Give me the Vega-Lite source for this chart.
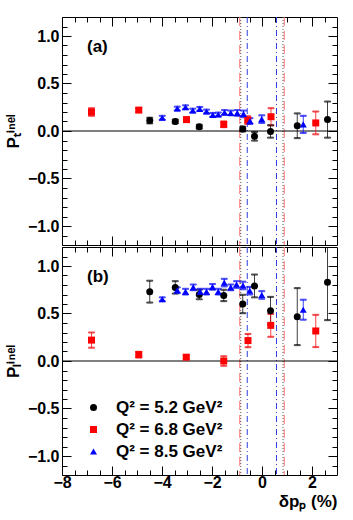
{
  "$schema": "https://vega.github.io/schema/vega-lite/v6.json",
  "padding": {"left": 3, "top": 16, "right": 5, "bottom": 2},
  "config": {
    "font": "Liberation Sans",
    "view": {"stroke": "black", "strokeWidth": 1},
    "axis": {"domain": false, "grid": false, "tickColor": "black", "tickWidth": 1, "tickSize": -9, "labelColor": "black", "titleColor": "black", "labelFont": "Liberation Sans", "labelFontWeight": "bold", "labelFontSize": 16, "titleFont": "Liberation Sans", "titleFontWeight": "bold", "titleFontSize": 17, "labelOverlap": false, "labelFlush": false, "labelBound": false},
    "legend": {"labelFont": "Liberation Sans", "labelFontWeight": "bold", "labelFontSize": 17, "labelColor": "black", "padding": 0, "rowPadding": 4, "labelOffset": 14, "symbolSize": 49, "symbolStrokeWidth": 0, "symbolOpacity": 1}
  },
  "datasets": {
    "vlines": [
      {"kind": "red", "x": -0.89}, {"kind": "red", "x": 0.89},
      {"kind": "dot", "x": -0.85}, {"kind": "dot", "x": 0.84},
      {"kind": "blue", "x": -0.59}, {"kind": "blue", "x": 0.58}
    ],
    "pts": [
      {"panel": "a", "q": "Q² = 5.2 GeV²", "x": -4.49, "y": 0.11, "lo": 0.08, "hi": 0.14},
      {"panel": "a", "q": "Q² = 5.2 GeV²", "x": -3.47, "y": 0.10, "lo": 0.08, "hi": 0.12},
      {"panel": "a", "q": "Q² = 5.2 GeV²", "x": -2.51, "y": 0.045, "lo": 0.025, "hi": 0.065},
      {"panel": "a", "q": "Q² = 5.2 GeV²", "x": -0.77, "y": 0.02, "lo": -0.005, "hi": 0.045},
      {"panel": "a", "q": "Q² = 5.2 GeV²", "x": -0.30, "y": -0.056, "lo": -0.101, "hi": -0.011},
      {"panel": "a", "q": "Q² = 5.2 GeV²", "x": 0.34, "y": -0.005, "lo": -0.07, "hi": 0.06},
      {"panel": "a", "q": "Q² = 5.2 GeV²", "x": 1.41, "y": 0.055, "lo": -0.075, "hi": 0.185},
      {"panel": "a", "q": "Q² = 5.2 GeV²", "x": 2.62, "y": 0.12, "lo": -0.07, "hi": 0.31},
      {"panel": "a", "q": "Q² = 6.8 GeV²", "x": -6.82, "y": 0.20, "lo": 0.16, "hi": 0.24},
      {"panel": "a", "q": "Q² = 6.8 GeV²", "x": -4.93, "y": 0.22, "lo": 0.20, "hi": 0.24},
      {"panel": "a", "q": "Q² = 6.8 GeV²", "x": -3.02, "y": 0.12, "lo": 0.10, "hi": 0.14},
      {"panel": "a", "q": "Q² = 6.8 GeV²", "x": -1.53, "y": 0.07, "lo": 0.04, "hi": 0.10},
      {"panel": "a", "q": "Q² = 6.8 GeV²", "x": -0.57, "y": 0.115, "lo": 0.075, "hi": 0.155},
      {"panel": "a", "q": "Q² = 6.8 GeV²", "x": 0.36, "y": 0.15, "lo": 0.06, "hi": 0.24},
      {"panel": "a", "q": "Q² = 6.8 GeV²", "x": 2.15, "y": 0.085, "lo": -0.035, "hi": 0.205},
      {"panel": "a", "q": "Q² = 8.5 GeV²", "x": -3.99, "y": 0.14, "lo": 0.12, "hi": 0.16},
      {"panel": "a", "q": "Q² = 8.5 GeV²", "x": -3.39, "y": 0.236, "lo": 0.216, "hi": 0.256},
      {"panel": "a", "q": "Q² = 8.5 GeV²", "x": -3.06, "y": 0.25, "lo": 0.23, "hi": 0.27},
      {"panel": "a", "q": "Q² = 8.5 GeV²", "x": -2.77, "y": 0.215, "lo": 0.195, "hi": 0.235},
      {"panel": "a", "q": "Q² = 8.5 GeV²", "x": -2.49, "y": 0.233, "lo": 0.213, "hi": 0.253},
      {"panel": "a", "q": "Q² = 8.5 GeV²", "x": -2.22, "y": 0.205, "lo": 0.185, "hi": 0.225},
      {"panel": "a", "q": "Q² = 8.5 GeV²", "x": -1.97, "y": 0.17, "lo": 0.15, "hi": 0.19},
      {"panel": "a", "q": "Q² = 8.5 GeV²", "x": -1.75, "y": 0.174, "lo": 0.154, "hi": 0.194},
      {"panel": "a", "q": "Q² = 8.5 GeV²", "x": -1.50, "y": 0.195, "lo": 0.17, "hi": 0.22},
      {"panel": "a", "q": "Q² = 8.5 GeV²", "x": -1.25, "y": 0.19, "lo": 0.165, "hi": 0.215},
      {"panel": "a", "q": "Q² = 8.5 GeV²", "x": -0.99, "y": 0.19, "lo": 0.16, "hi": 0.22},
      {"panel": "a", "q": "Q² = 8.5 GeV²", "x": -0.74, "y": 0.18, "lo": 0.145, "hi": 0.215},
      {"panel": "a", "q": "Q² = 8.5 GeV²", "x": -0.48, "y": 0.105, "lo": 0.075, "hi": 0.135},
      {"panel": "a", "q": "Q² = 8.5 GeV²", "x": -0.01, "y": 0.125, "lo": 0.085, "hi": 0.165},
      {"panel": "a", "q": "Q² = 8.5 GeV²", "x": 1.65, "y": 0.07, "lo": -0.02, "hi": 0.16},
      {"panel": "b", "q": "Q² = 5.2 GeV²", "x": -4.49, "y": 0.73, "lo": 0.615, "hi": 0.845},
      {"panel": "b", "q": "Q² = 5.2 GeV²", "x": -3.47, "y": 0.775, "lo": 0.71, "hi": 0.84},
      {"panel": "b", "q": "Q² = 5.2 GeV²", "x": -2.51, "y": 0.70, "lo": 0.65, "hi": 0.75},
      {"panel": "b", "q": "Q² = 5.2 GeV²", "x": -1.53, "y": 0.69, "lo": 0.63, "hi": 0.75},
      {"panel": "b", "q": "Q² = 5.2 GeV²", "x": -0.77, "y": 0.60, "lo": 0.503, "hi": 0.697},
      {"panel": "b", "q": "Q² = 5.2 GeV²", "x": -0.30, "y": 0.79, "lo": 0.67, "hi": 0.91},
      {"panel": "b", "q": "Q² = 5.2 GeV²", "x": 0.34, "y": 0.53, "lo": 0.385, "hi": 0.675},
      {"panel": "b", "q": "Q² = 5.2 GeV²", "x": 1.41, "y": 0.467, "lo": 0.167, "hi": 0.767},
      {"panel": "b", "q": "Q² = 5.2 GeV²", "x": 2.62, "y": 0.83, "lo": 0.43, "hi": 1.23},
      {"panel": "b", "q": "Q² = 6.8 GeV²", "x": -6.82, "y": 0.22, "lo": 0.14, "hi": 0.30},
      {"panel": "b", "q": "Q² = 6.8 GeV²", "x": -4.93, "y": 0.067, "lo": 0.037, "hi": 0.097},
      {"panel": "b", "q": "Q² = 6.8 GeV²", "x": -3.03, "y": 0.04, "lo": 0.02, "hi": 0.06},
      {"panel": "b", "q": "Q² = 6.8 GeV²", "x": -1.53, "y": 0.0, "lo": -0.05, "hi": 0.05},
      {"panel": "b", "q": "Q² = 6.8 GeV²", "x": -0.56, "y": 0.215, "lo": 0.145, "hi": 0.285},
      {"panel": "b", "q": "Q² = 6.8 GeV²", "x": 0.35, "y": 0.375, "lo": 0.255, "hi": 0.495},
      {"panel": "b", "q": "Q² = 6.8 GeV²", "x": 2.15, "y": 0.316, "lo": 0.146, "hi": 0.486},
      {"panel": "b", "q": "Q² = 8.5 GeV²", "x": -3.99, "y": 0.65, "lo": 0.63, "hi": 0.67},
      {"panel": "b", "q": "Q² = 8.5 GeV²", "x": -3.39, "y": 0.745, "lo": 0.715, "hi": 0.775},
      {"panel": "b", "q": "Q² = 8.5 GeV²", "x": -3.06, "y": 0.73, "lo": 0.70, "hi": 0.76},
      {"panel": "b", "q": "Q² = 8.5 GeV²", "x": -2.75, "y": 0.775, "lo": 0.745, "hi": 0.805},
      {"panel": "b", "q": "Q² = 8.5 GeV²", "x": -2.48, "y": 0.73, "lo": 0.70, "hi": 0.76},
      {"panel": "b", "q": "Q² = 8.5 GeV²", "x": -2.22, "y": 0.73, "lo": 0.70, "hi": 0.76},
      {"panel": "b", "q": "Q² = 8.5 GeV²", "x": -1.98, "y": 0.78, "lo": 0.75, "hi": 0.81},
      {"panel": "b", "q": "Q² = 8.5 GeV²", "x": -1.75, "y": 0.73, "lo": 0.70, "hi": 0.76},
      {"panel": "b", "q": "Q² = 8.5 GeV²", "x": -1.51, "y": 0.825, "lo": 0.785, "hi": 0.865},
      {"panel": "b", "q": "Q² = 8.5 GeV²", "x": -1.25, "y": 0.775, "lo": 0.745, "hi": 0.805},
      {"panel": "b", "q": "Q² = 8.5 GeV²", "x": -1.02, "y": 0.805, "lo": 0.77, "hi": 0.84},
      {"panel": "b", "q": "Q² = 8.5 GeV²", "x": -0.76, "y": 0.795, "lo": 0.755, "hi": 0.835},
      {"panel": "b", "q": "Q² = 8.5 GeV²", "x": -0.49, "y": 0.74, "lo": 0.70, "hi": 0.78},
      {"panel": "b", "q": "Q² = 8.5 GeV²", "x": -0.01, "y": 0.695, "lo": 0.655, "hi": 0.735},
      {"panel": "b", "q": "Q² = 8.5 GeV²", "x": 1.65, "y": 0.54, "lo": 0.435, "hi": 0.645}
    ]
  },
  "spacing": 0,
  "vconcat": [
    {
      "width": 275, "height": 228,
      "resolve": {"axis": {"x": "independent", "y": "independent"}},
      "layer": [
        {"data": {"name": "vlines"}, "transform": [{"filter": "datum.kind == 'red'"}],
         "mark": {"type": "rule", "color": "#ff7070", "strokeWidth": 1, "strokeDash": [9, 5]},
         "encoding": {"x": {"field": "x", "type": "quantitative", "scale": {"domain": [-8, 3], "nice": false, "zero": false}, "axis": null}}},
        {"data": {"name": "vlines"}, "transform": [{"filter": "datum.kind == 'dot'"}],
         "mark": {"type": "rule", "color": "#555555", "strokeWidth": 1, "strokeDash": [1, 2]},
         "encoding": {"x": {"field": "x", "type": "quantitative", "scale": {"domain": [-8, 3], "nice": false, "zero": false}, "axis": null}}},
        {"data": {"name": "vlines"}, "transform": [{"filter": "datum.kind == 'blue'"}],
         "mark": {"type": "rule", "color": "#3040e0", "strokeWidth": 1, "strokeDash": [6, 3, 1, 3]},
         "encoding": {"x": {"field": "x", "type": "quantitative", "scale": {"domain": [-8, 3], "nice": false, "zero": false}, "axis": null}}},
        {"data": {"values": [{"y": 0}]},
         "mark": {"type": "rule", "color": "black", "strokeWidth": 1},
         "encoding": {"y": {"field": "y", "type": "quantitative", "scale": {"domain": [-1.2, 1.2], "nice": false, "zero": false}, "axis": null}}},
        {"data": {"name": "pts"}, "transform": [{"filter": "datum.panel == 'a'"}],
         "mark": {"type": "errorbar", "ticks": {"size": 6}, "thickness": 1, "opacity": 0.75},
         "encoding": {
           "x": {"field": "x", "type": "quantitative", "scale": {"domain": [-8, 3], "nice": false, "zero": false},
                 "axis": {"orient": "top", "labels": false, "title": null, "values": [-8,-7.5,-7,-6.5,-6,-5.5,-5,-4.5,-4,-3.5,-3,-2.5,-2,-1.5,-1,-0.5,0,0.5,1,1.5,2,2.5],
                          "tickDash": {"condition": {"test": "abs(datum.value/2 - round(datum.value/2)) < 0.001", "value": [20, 1]}, "value": [5, 20]}}},
           "y": {"field": "lo", "type": "quantitative", "scale": {"domain": [-1.2, 1.2], "nice": false, "zero": false},
                 "axis": {"orient": "right", "labels": false, "title": null, "values": [-1.1,-1,-0.9,-0.8,-0.7,-0.6,-0.5,-0.4,-0.3,-0.2,-0.1,0,0.1,0.2,0.3,0.4,0.5,0.6,0.7,0.8,0.9,1,1.1],
                          "tickDash": {"condition": {"test": "abs(datum.value*2 - round(datum.value*2)) < 0.001", "value": [20, 1]}, "value": [5, 20]}}},
           "y2": {"field": "hi"},
           "stroke": {"field": "q", "type": "nominal", "scale": {"domain": ["Q² = 5.2 GeV²", "Q² = 6.8 GeV²", "Q² = 8.5 GeV²"], "range": ["#000000", "#ff0000", "#0000ff"]},
                      "legend": {"orient": "none", "legendX": 23, "legendY": 382, "title": null}}
         }},
        {"data": {"name": "pts"}, "transform": [{"filter": "datum.panel == 'a'"}],
         "mark": {"type": "point", "filled": true, "size": 49, "opacity": 1},
         "encoding": {
           "x": {"field": "x", "type": "quantitative", "scale": {"domain": [-8, 3], "nice": false, "zero": false},
                 "axis": {"orient": "bottom", "labels": false, "title": null, "values": [-8,-7.5,-7,-6.5,-6,-5.5,-5,-4.5,-4,-3.5,-3,-2.5,-2,-1.5,-1,-0.5,0,0.5,1,1.5,2,2.5],
                          "tickDash": {"condition": {"test": "abs(datum.value/2 - round(datum.value/2)) < 0.001", "value": [20, 1]}, "value": [5, 20]}}},
           "y": {"field": "y", "type": "quantitative", "scale": {"domain": [-1.2, 1.2], "nice": false, "zero": false},
                 "axis": {"orient": "left", "title": "Pₜⁱⁿᵉˡ", "titlePadding": 5, "labelPadding": 12,
                          "values": [-1.1,-1,-0.9,-0.8,-0.7,-0.6,-0.5,-0.4,-0.3,-0.2,-0.1,0,0.1,0.2,0.3,0.4,0.5,0.6,0.7,0.8,0.9,1,1.1],
                          "labelExpr": "abs(datum.value*2 - round(datum.value*2)) < 0.001 ? format(datum.value, '.1f') : ''",
                          "tickDash": {"condition": {"test": "abs(datum.value*2 - round(datum.value*2)) < 0.001", "value": [20, 1]}, "value": [5, 20]}}},
           "color": {"field": "q", "type": "nominal", "scale": {"domain": ["Q² = 5.2 GeV²", "Q² = 6.8 GeV²", "Q² = 8.5 GeV²"], "range": ["#000000", "#ff0000", "#0000ff"]},
                     "legend": {"orient": "none", "legendX": 23, "legendY": 382, "title": null}},
           "shape": {"field": "q", "type": "nominal", "scale": {"domain": ["Q² = 5.2 GeV²", "Q² = 6.8 GeV²", "Q² = 8.5 GeV²"], "range": ["circle", "square", "triangle-up"]},
                     "legend": {"orient": "none", "legendX": 23, "legendY": 382, "title": null}}
         }},
        {"data": {"values": [{"label": "(a)"}]},
         "mark": {"type": "text", "align": "left", "baseline": "middle", "fontSize": 17, "fontWeight": "bold", "font": "Liberation Sans", "color": "black"},
         "encoding": {"text": {"field": "label", "type": "nominal"},
                      "x": {"datum": -7.0, "type": "quantitative", "scale": {"domain": [-8, 3], "nice": false, "zero": false}, "axis": null},
                      "y": {"datum": 0.88, "type": "quantitative", "scale": {"domain": [-1.2, 1.2], "nice": false, "zero": false}, "axis": null}}}
      ]
    },
    {
      "width": 275, "height": 228,
      "resolve": {"axis": {"x": "independent", "y": "independent"}},
      "layer": [
        {"data": {"name": "vlines"}, "transform": [{"filter": "datum.kind == 'red'"}],
         "mark": {"type": "rule", "color": "#ff7070", "strokeWidth": 1, "strokeDash": [9, 5]},
         "encoding": {"x": {"field": "x", "type": "quantitative", "scale": {"domain": [-8, 3], "nice": false, "zero": false}, "axis": null}}},
        {"data": {"name": "vlines"}, "transform": [{"filter": "datum.kind == 'dot'"}],
         "mark": {"type": "rule", "color": "#555555", "strokeWidth": 1, "strokeDash": [1, 2]},
         "encoding": {"x": {"field": "x", "type": "quantitative", "scale": {"domain": [-8, 3], "nice": false, "zero": false}, "axis": null}}},
        {"data": {"name": "vlines"}, "transform": [{"filter": "datum.kind == 'blue'"}],
         "mark": {"type": "rule", "color": "#3040e0", "strokeWidth": 1, "strokeDash": [6, 3, 1, 3]},
         "encoding": {"x": {"field": "x", "type": "quantitative", "scale": {"domain": [-8, 3], "nice": false, "zero": false}, "axis": null}}},
        {"data": {"values": [{"y": 0}]},
         "mark": {"type": "rule", "color": "black", "strokeWidth": 1},
         "encoding": {"y": {"field": "y", "type": "quantitative", "scale": {"domain": [-1.2, 1.2], "nice": false, "zero": false}, "axis": null}}},
        {"data": {"name": "pts"}, "transform": [{"filter": "datum.panel == 'b'"}],
         "mark": {"type": "errorbar", "ticks": {"size": 6}, "thickness": 1, "opacity": 0.75, "clip": true},
         "encoding": {
           "x": {"field": "x", "type": "quantitative", "scale": {"domain": [-8, 3], "nice": false, "zero": false},
                 "axis": {"orient": "top", "labels": false, "title": null, "values": [-8,-7.5,-7,-6.5,-6,-5.5,-5,-4.5,-4,-3.5,-3,-2.5,-2,-1.5,-1,-0.5,0,0.5,1,1.5,2,2.5],
                          "tickDash": {"condition": {"test": "abs(datum.value/2 - round(datum.value/2)) < 0.001", "value": [20, 1]}, "value": [5, 20]}}},
           "y": {"field": "lo", "type": "quantitative", "scale": {"domain": [-1.2, 1.2], "nice": false, "zero": false},
                 "axis": {"orient": "right", "labels": false, "title": null, "values": [-1.1,-1,-0.9,-0.8,-0.7,-0.6,-0.5,-0.4,-0.3,-0.2,-0.1,0,0.1,0.2,0.3,0.4,0.5,0.6,0.7,0.8,0.9,1,1.1],
                          "tickDash": {"condition": {"test": "abs(datum.value*2 - round(datum.value*2)) < 0.001", "value": [20, 1]}, "value": [5, 20]}}},
           "y2": {"field": "hi"},
           "stroke": {"field": "q", "type": "nominal", "scale": {"domain": ["Q² = 5.2 GeV²", "Q² = 6.8 GeV²", "Q² = 8.5 GeV²"], "range": ["#000000", "#ff0000", "#0000ff"]},
                      "legend": {"orient": "none", "legendX": 23, "legendY": 382, "title": null}}
         }},
        {"data": {"name": "pts"}, "transform": [{"filter": "datum.panel == 'b'"}],
         "mark": {"type": "point", "filled": true, "size": 49, "opacity": 1},
         "encoding": {
           "x": {"field": "x", "type": "quantitative", "scale": {"domain": [-8, 3], "nice": false, "zero": false},
                 "axis": {"orient": "bottom", "title": "δpₚ (%)", "titleAnchor": "end", "titlePadding": 3, "labelPadding": 8,
                          "values": [-8,-7.5,-7,-6.5,-6,-5.5,-5,-4.5,-4,-3.5,-3,-2.5,-2,-1.5,-1,-0.5,0,0.5,1,1.5,2,2.5],
                          "labelExpr": "abs(datum.value/2 - round(datum.value/2)) < 0.001 ? format(datum.value, 'd') : ''",
                          "tickDash": {"condition": {"test": "abs(datum.value/2 - round(datum.value/2)) < 0.001", "value": [20, 1]}, "value": [5, 20]}}},
           "y": {"field": "y", "type": "quantitative", "scale": {"domain": [-1.2, 1.2], "nice": false, "zero": false},
                 "axis": {"orient": "left", "title": "Pₗⁱⁿᵉˡ", "titlePadding": 5, "labelPadding": 12,
                          "values": [-1.1,-1,-0.9,-0.8,-0.7,-0.6,-0.5,-0.4,-0.3,-0.2,-0.1,0,0.1,0.2,0.3,0.4,0.5,0.6,0.7,0.8,0.9,1,1.1],
                          "labelExpr": "abs(datum.value*2 - round(datum.value*2)) < 0.001 ? format(datum.value, '.1f') : ''",
                          "tickDash": {"condition": {"test": "abs(datum.value*2 - round(datum.value*2)) < 0.001", "value": [20, 1]}, "value": [5, 20]}}},
           "color": {"field": "q", "type": "nominal", "scale": {"domain": ["Q² = 5.2 GeV²", "Q² = 6.8 GeV²", "Q² = 8.5 GeV²"], "range": ["#000000", "#ff0000", "#0000ff"]},
                     "legend": {"orient": "none", "legendX": 23, "legendY": 382, "title": null}},
           "shape": {"field": "q", "type": "nominal", "scale": {"domain": ["Q² = 5.2 GeV²", "Q² = 6.8 GeV²", "Q² = 8.5 GeV²"], "range": ["circle", "square", "triangle-up"]},
                     "legend": {"orient": "none", "legendX": 23, "legendY": 382, "title": null}}
         }},
        {"data": {"values": [{"label": "(b)"}]},
         "mark": {"type": "text", "align": "left", "baseline": "middle", "fontSize": 17, "fontWeight": "bold", "font": "Liberation Sans", "color": "black"},
         "encoding": {"text": {"field": "label", "type": "nominal"},
                      "x": {"datum": -7.0, "type": "quantitative", "scale": {"domain": [-8, 3], "nice": false, "zero": false}, "axis": null},
                      "y": {"datum": 0.88, "type": "quantitative", "scale": {"domain": [-1.2, 1.2], "nice": false, "zero": false}, "axis": null}}}
      ]
    }
  ]
}
